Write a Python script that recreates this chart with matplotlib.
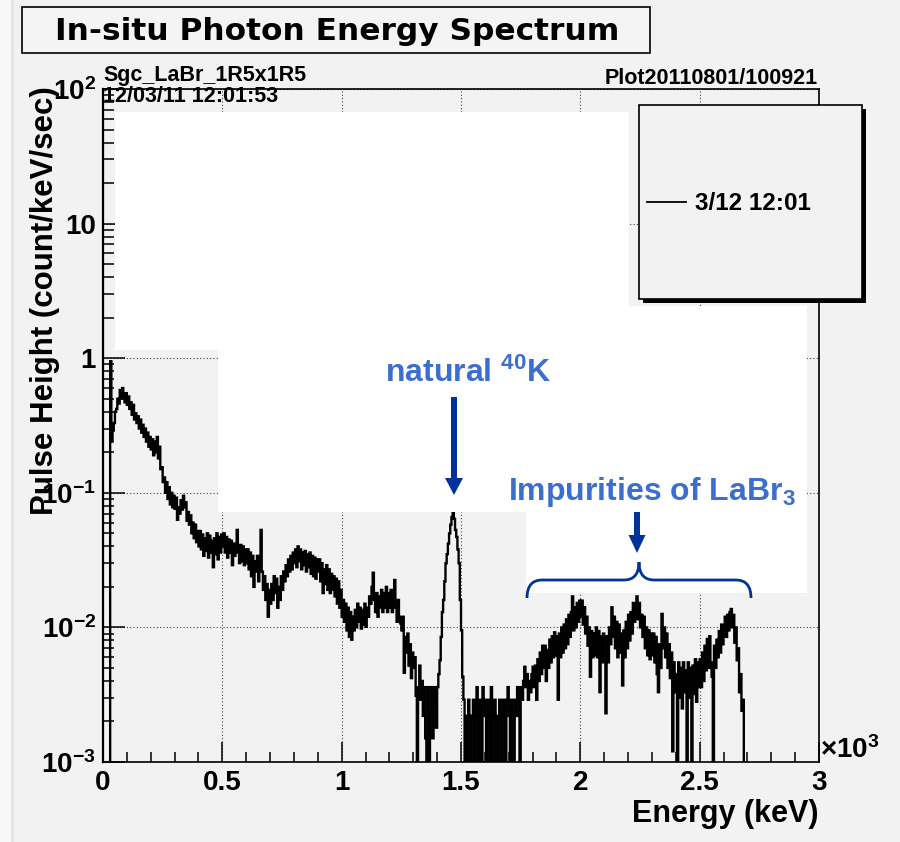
"""In-situ photon energy spectrum (LaBr3 detector), ROOT-style log plot."""
import numpy as np
import matplotlib.pyplot as plt
from matplotlib.patches import Rectangle, FancyArrow, PathPatch
from matplotlib.path import Path
from matplotlib.ticker import MultipleLocator, LogLocator, NullFormatter

plt.rcParams["font.family"] = ["Liberation Sans", "DejaVu Sans"]
plt.rcParams["font.weight"] = "bold"
plt.rcParams["mathtext.fontset"] = "custom"
plt.rcParams["mathtext.rm"] = "Liberation Sans:bold"
plt.rcParams["mathtext.bf"] = "Liberation Sans:bold"
plt.rcParams["mathtext.default"] = "bf"

W, H = 900, 842
BG = "#f2f2f2"
TEXT_BLUE = "#3b6ecd"
ARROW_BLUE = "#003399"

# ------------------------------------------------------------------
# Spectrum: pulse height (count/keV/sec) in 5 keV bins, 0 - 3000 keV
# (0 = empty bin)
# ------------------------------------------------------------------
bin_width_kev = 5
rate_0_500 = [
    0, 0, 0, 0, 0, 0, 0.95, 0.24, 0.29, 0.33, 0.40, 0.42, 0.50, 0.46, 0.58, 0.50, 0.60, 0.52, 0.47, 0.55,
    0.45, 0.52, 0.42, 0.47, 0.38, 0.45, 0.35, 0.39, 0.33, 0.37, 0.30, 0.35, 0.28, 0.32, 0.26, 0.30, 0.24, 0.28, 0.22, 0.26,
    0.21, 0.25, 0.19, 0.24, 0.20, 0.26, 0.18, 0.22, 0.15, 0.155, 0.12, 0.13, 0.10, 0.12, 0.09, 0.11, 0.082, 0.10, 0.078, 0.095,
    0.076, 0.092, 0.063, 0.078, 0.070, 0.088, 0.075, 0.095, 0.078, 0.085, 0.062, 0.072, 0.058, 0.068, 0.050, 0.060, 0.046, 0.058, 0.043, 0.052,
    0.040, 0.052, 0.038, 0.049, 0.034, 0.046, 0.037, 0.050, 0.033, 0.048, 0.036, 0.044, 0.028, 0.046, 0.035, 0.050, 0.032, 0.047, 0.036, 0.049,
]
rate_500_1000 = [
    0.040, 0.050, 0.036, 0.047, 0.033, 0.045, 0.036, 0.044, 0.029, 0.042, 0.034, 0.041, 0.053, 0.036, 0.030, 0.041, 0.031, 0.040, 0.029, 0.038,
    0.030, 0.038, 0.027, 0.036, 0.024, 0.034, 0.020, 0.031, 0.026, 0.034, 0.022, 0.030, 0.053, 0.026, 0.019, 0.024, 0.016, 0.021, 0.012, 0.019,
    0.015, 0.021, 0.016, 0.024, 0.018, 0.023, 0.014, 0.020, 0.016, 0.024, 0.019, 0.026, 0.022, 0.029, 0.024, 0.032, 0.026, 0.034, 0.027, 0.036,
    0.030, 0.038, 0.028, 0.040, 0.031, 0.038, 0.027, 0.036, 0.029, 0.037, 0.026, 0.035, 0.028, 0.036, 0.025, 0.034, 0.024, 0.033, 0.023, 0.032,
    0.026, 0.032, 0.022, 0.030, 0.018, 0.027, 0.021, 0.029, 0.019, 0.027, 0.018, 0.025, 0.019, 0.024, 0.017, 0.023, 0.015, 0.022, 0.014, 0.019,
]
rate_1000_1500 = [
    0.012, 0.016, 0.011, 0.015, 0.0095, 0.014, 0.0085, 0.013, 0.0081, 0.012, 0.0095, 0.0135, 0.010, 0.015, 0.011, 0.014, 0.0098, 0.0135, 0.0105, 0.015,
    0.0101, 0.014, 0.012, 0.017, 0.015, 0.020, 0.0255, 0.016, 0.013, 0.018, 0.012, 0.017, 0.014, 0.019, 0.013, 0.018, 0.014, 0.020, 0.013, 0.018,
    0.014, 0.019, 0.013, 0.017, 0.0225, 0.014, 0.011, 0.016, 0.012, 0.0107, 0.0095, 0.012, 0.0046, 0.0085, 0.0065, 0.0090, 0.0052, 0.0075, 0.0042, 0.0065,
    0.0050, 0.0060, 0.0031, 0, 0.0036, 0.0052, 0.0029, 0.0040, 0.0022, 0.0036, 0.0015, 0, 0.0036, 0, 0.0022, 0.0036, 0.0015, 0.0029, 0.0036, 0.0018,
    0.0036, 0.0045, 0.0057, 0.0085, 0.013, 0.016, 0.022, 0.030, 0.035, 0.042, 0.050, 0.058, 0.066, 0.072, 0.064, 0.053, 0.047, 0.038, 0.030, 0.016,
]
rate_1500_2000 = [
    0.0095, 0.0043, 0.0029, 0, 0.0022, 0, 0.0029, 0.0022, 0, 0.0022, 0.0029, 0, 0.0022, 0.0036, 0, 0.0022, 0.0029, 0, 0.0036, 0.0029,
    0.0022, 0, 0.0029, 0.0022, 0, 0.0036, 0, 0.0022, 0.0029, 0, 0.0022, 0, 0.0029, 0.0022, 0, 0.0029, 0.0022, 0, 0.0029, 0.0036,
    0.0022, 0, 0.0029, 0.0022, 0, 0.0029, 0.0022, 0.0036, 0.0029, 0, 0.0036, 0.0029, 0.0040, 0.0051, 0.0036, 0.0045, 0.0029, 0.0040, 0.0033, 0.0045,
    0.0051, 0.0036, 0.0052, 0.0029, 0.0058, 0.0040, 0.0065, 0.0045, 0.0073, 0.0050, 0.0073, 0.0040, 0.0068, 0.0050, 0.0081, 0.0055, 0.0086, 0.0060, 0.0092, 0.0062,
    0.0086, 0.0029, 0.0090, 0.0060, 0.0100, 0.0065, 0.0105, 0.0070, 0.0115, 0.0075, 0.0124, 0.0085, 0.0130, 0.017, 0.0095, 0.0141, 0.0100, 0.0152, 0.0110, 0.0158,
]
rate_2000_2500 = [
    0.0120, 0.0158, 0.0105, 0.0141, 0.0090, 0.0120, 0.0073, 0.0100, 0.0043, 0.0094, 0.0060, 0.0090, 0.0062, 0.0100, 0.0060, 0.0094, 0.0033, 0.0086, 0.0055, 0.0090,
    0.0060, 0.0023, 0.0086, 0.0055, 0.0100, 0.0075, 0.0141, 0.0085, 0.0120, 0.0070, 0.0110, 0.0060, 0.0105, 0.0065, 0.0090, 0.0037, 0.0095, 0.0060, 0.0110, 0.0070,
    0.0124, 0.0080, 0.0130, 0.0090, 0.0152, 0.0110, 0.0141, 0.017, 0.0115, 0.0152, 0.0100, 0.0124, 0.0085, 0.0120, 0.0070, 0.0100, 0.0062, 0.0095, 0.0058, 0.0090,
    0.0062, 0.0090, 0.0055, 0.0085, 0.0045, 0.0033, 0.0075, 0.0050, 0.0126, 0.0070, 0.0100, 0.0060, 0.0090, 0.0050, 0.0075, 0.0042, 0.0065, 0.0012, 0.0055, 0.0033,
    0.0045, 0, 0.0055, 0.0030, 0.0050, 0.0025, 0.0055, 0.0033, 0.0048, 0, 0.0055, 0.0030, 0.0050, 0, 0.0052, 0.0032, 0.0058, 0.0028, 0.0055, 0.0036,
]
rate_2500_3000 = [
    0.0058, 0.0036, 0.0065, 0.0040, 0.0073, 0.0048, 0.0082, 0.0050, 0.0086, 0.0055, 0.0043, 0, 0.0073, 0.0050, 0.0081, 0.0060, 0.0094, 0.0065, 0.0105, 0.0075,
    0.0100, 0.0120, 0.0085, 0.0124, 0.0095, 0.0130, 0.0137, 0.0100, 0.0124, 0.0077, 0.0100, 0.0057, 0.0070, 0.0033, 0.0045, 0.0024, 0.0029, 0, 0, 0,
    0, 0, 0, 0, 0, 0, 0, 0, 0, 0, 0, 0, 0, 0, 0, 0, 0, 0, 0, 0,
    0, 0, 0, 0, 0, 0, 0, 0, 0, 0, 0, 0, 0, 0, 0, 0, 0, 0, 0, 0,
    0, 0, 0, 0, 0, 0, 0, 0, 0, 0, 0, 0, 0, 0, 0, 0, 0, 0, 0, 0,
]

x_ticks_kev = [0, 500, 1000, 1500, 2000, 2500, 3000]
x_tick_labels = ["0", "0.5", "1", "1.5", "2", "2.5", "3"]
y_ticks = [1e-3, 1e-2, 1e-1, 1, 10, 100]
y_tick_labels = [r"$10^{-3}$", r"$10^{-2}$", r"$10^{-1}$", "1", "10", r"$10^{2}$"]

legend_label = "3/12 12:01"
run_name = "Sgc_LaBr_1R5x1R5"
run_time = "12/03/11 12:01:53"
plot_id = "Plot20110801/100921"


def px_axes(x0, y0, x1, y1):
    """Figure-fraction rect from a pixel box (top-left origin)."""
    return [x0 / W, 1 - y1 / H, (x1 - x0) / W, (y1 - y0) / H]


fig = plt.figure(figsize=(W / 100, H / 100), dpi=100, facecolor=BG)

ax = fig.add_axes(px_axes(103, 89, 819, 762), facecolor=BG)
rate = np.array(rate_0_500 + rate_500_1000 + rate_1000_1500
                + rate_1500_2000 + rate_2000_2500 + rate_2500_3000)
edges = np.arange(0, 3000 + bin_width_kev, bin_width_kev)
shown = np.where(rate > 0, rate, 1e-6)   # empty bins fall below the axis
ax.stairs(shown, edges, baseline=None, color="black", lw=1.7, zorder=3)

ax.set_yscale("log")
ax.set_xlim(0, 3000)
ax.set_ylim(1e-3, 1e2)
ax.set_xticks(x_ticks_kev)
ax.set_xticklabels(x_tick_labels, fontsize=20, fontweight="bold")
ax.xaxis.set_minor_locator(MultipleLocator(100))
ax.set_yticks(y_ticks)
ax.set_yticklabels(y_tick_labels, fontsize=20, fontweight="bold")
ax.yaxis.set_minor_locator(LogLocator(base=10, subs=np.arange(2, 10), numticks=20))
ax.yaxis.set_minor_formatter(NullFormatter())
ax.tick_params(axis="x", which="major", direction="in", length=14.5, width=1.1, pad=6)
ax.tick_params(axis="x", which="minor", direction="in", length=7, width=1.1)
ax.tick_params(axis="y", which="major", direction="in", length=16, width=1.1, pad=5)
ax.tick_params(axis="y", which="minor", direction="in", length=8, width=1.1)
ax.grid(True, which="major", linestyle=(0, (1, 2)), color="#444444", lw=0.8)
for sp in ax.spines.values():
    sp.set_linewidth(1.2)
ax.spines["left"].set_linewidth(1.6)

ax.set_ylabel("Pulse Height (count/keV/sec)", fontsize=22.5, fontweight="bold")
ax.yaxis.set_label_coords(-0.06, 0.686)

# ------------------------------------------------------------------
# overlay in pixel coordinates: slide annotations, title box, legend
# ------------------------------------------------------------------
ov = fig.add_axes([0, 0, 1, 1], zorder=10)
ov.set_xlim(0, W)
ov.set_ylim(H, 0)
ov.set_axis_off()
ov.patch.set_visible(False)

ov.add_patch(Rectangle((0, 0), 11, H, color="#f8f8f8", lw=0))
ov.add_patch(Rectangle((11, 0), 3, H, color="#e4e4e4", lw=0))

# white boxes pasted over the plot
for x0, y0, x1, y1 in [(115, 112, 629, 350), (218, 306, 807, 512), (526, 511, 807, 593)]:
    ov.add_patch(Rectangle((x0, y0), x1 - x0, y1 - y0, color="white", lw=0))

# title box
ov.add_patch(Rectangle((22, 7), 628, 46, facecolor="#f4f4f4", edgecolor="black", lw=1.2))
ov.text(337, 31, "In-situ Photon Energy Spectrum", fontsize=22.5, fontweight="bold",
        family=["DejaVu Sans"], ha="center", va="center")

ov.text(103, 75, run_name, fontsize=15.5, fontweight="bold", ha="left", va="center")
ov.text(103, 97, run_time, fontsize=15.5, fontweight="bold", ha="left", va="center")
ov.text(818, 79, plot_id, fontsize=15.5, fontweight="bold", ha="right", va="center")

# legend box with shadow
ov.add_patch(Rectangle((643, 109), 223, 194, facecolor="black", lw=0))
ov.add_patch(Rectangle((639, 105), 223, 194, facecolor=BG, edgecolor="black", lw=1.2))
ov.plot([647, 686], [202, 202], color="black", lw=1.3)
ov.text(695, 203, legend_label, fontsize=17.5, fontweight="bold", ha="left", va="center")

ov.text(820, 750, r"$\times$10$^{3}$", fontsize=20, ha="left", va="center")
ov.text(818, 814, "Energy (keV)", fontsize=22, fontweight="bold", ha="right", va="center")

# annotations
ov.text(385, 373, r"natural $^{40}$K", fontsize=23, fontweight="bold",
        color=TEXT_BLUE, ha="left", va="center")
ov.add_patch(FancyArrow(454, 397, 0, 98, width=6, head_width=18, head_length=17,
                        length_includes_head=True, color=ARROW_BLUE, lw=0))

ov.text(508, 492, r"Impurities of LaBr$_{3}$", fontsize=23, fontweight="bold",
        color=TEXT_BLUE, ha="left", va="center")
ov.add_patch(FancyArrow(637, 512, 0, 41, width=6, head_width=17, head_length=18,
                        length_includes_head=True, color=ARROW_BLUE, lw=0))

brace_pts = [(527, 598), (527, 580), (542, 580), (624, 580), (639, 580), (639, 562),
             (639, 580), (654, 580), (736, 580), (751, 580), (751, 598)]
brace_codes = [Path.MOVETO, Path.CURVE3, Path.CURVE3, Path.LINETO, Path.CURVE3, Path.CURVE3,
               Path.CURVE3, Path.CURVE3, Path.LINETO, Path.CURVE3, Path.CURVE3]
ov.add_patch(PathPatch(Path(brace_pts, brace_codes), facecolor="none",
                       edgecolor=ARROW_BLUE, lw=2.0))

fig.savefig("out.png", dpi=100, facecolor=BG)
